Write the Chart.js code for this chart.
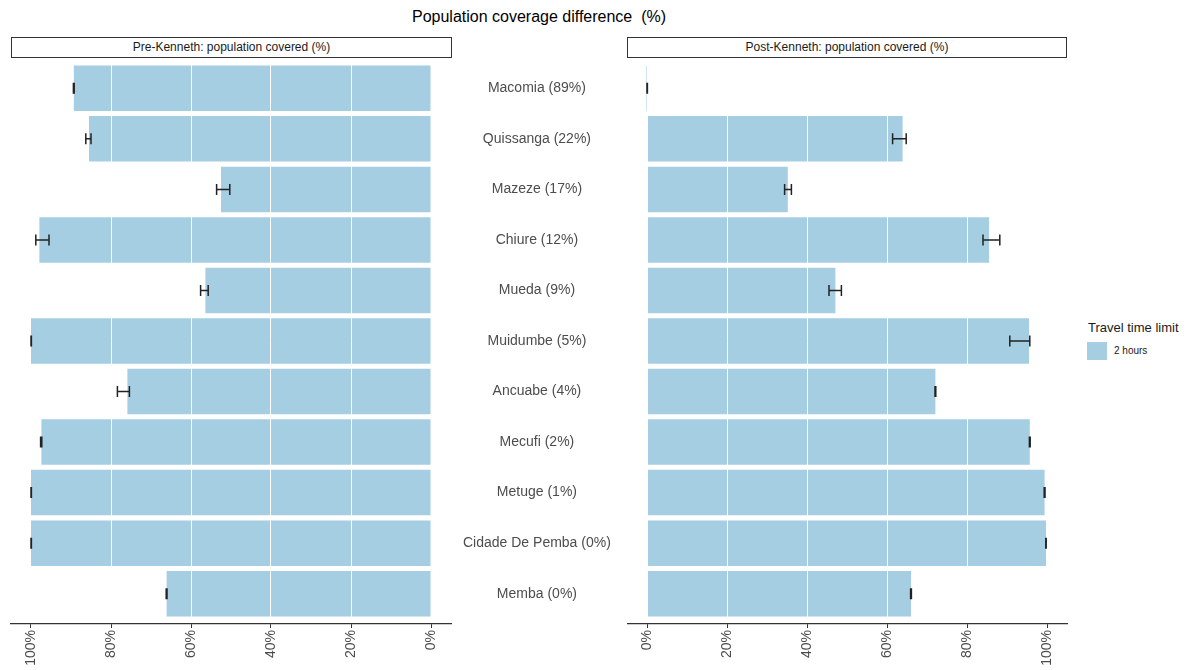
<!DOCTYPE html>
<html>
<head>
<meta charset="utf-8">
<script src="https://cdn.jsdelivr.net/npm/chart.js@4/dist/chart.umd.min.js"></script>
<style>
  body { margin: 0; background: #fff; font-family: 'Liberation Sans', Arial, sans-serif; }
  #wrap { position: relative; width: 1193px; height: 670px; overflow: hidden; }
  canvas { position: absolute; top: 0; }
  .title { position: absolute; top: 8px; left: 339px; width: 400px; text-align: center; font-size: 16px; color: #000; white-space: pre; }
  .strip { position: absolute; top: 37px; height: 21px; box-sizing: border-box; border: 1.5px solid #333; font-size: 12px; color: #1a1a1a; text-align: center; line-height: 18px; background: #fff; }
  .legend-title { position: absolute; left: 1088px; top: 320px; font-size: 13px; color: #1a1a1a; }
  .swatch { position: absolute; left: 1087px; top: 342px; width: 20px; height: 18px; background: #a6cee3; }
  .legend-lbl { position: absolute; left: 1114px; top: 345px; font-size: 10px; color: #1a1a1a; }
</style>
</head>
<body>
<div id="wrap">
  <div class="title">Population coverage difference  (%)</div>
  <div class="strip" style="left:11px;width:441px;">Pre-Kenneth: population covered (%)</div>
  <div class="strip" style="left:627px;width:440px;">Post-Kenneth: population covered (%)</div>
  <canvas id="pre" width="627" height="670" style="left:0"></canvas>
  <canvas id="post" width="460" height="670" style="left:627px"></canvas>
  <div class="legend-title">Travel time limit</div>
  <div class="swatch"></div>
  <div class="legend-lbl">2 hours</div>
</div>
<script>
// districts, top to bottom (difference in brackets)
const distritos = ['Macomia (89%)', 'Quissanga (22%)', 'Mazeze (17%)', 'Chiure (12%)', 'Mueda (9%)',
  'Muidumbe (5%)', 'Ancuabe (4%)', 'Mecufi (2%)', 'Metuge (1%)', 'Cidade De Pemba (0%)', 'Memba (0%)'];

// population covered within 2 hours (%)
const antes = [89.3, 85.5, 52.5, 97.9, 56.4, 100, 75.9, 97.4, 100, 100, 66.1];
const antesMin = [89.2, 85.0, 50.3, 95.5, 55.7, 99.9, 75.4, 97.3, 99.9, 99.9, 66.0];
const antesMax = [89.4, 86.3, 53.6, 98.8, 57.6, 100, 78.4, 97.6, 100, 100, 66.2];

const depois = [0, 63.9, 35.2, 85.5, 47.1, 95.5, 72.1, 95.7, 99.4, 99.75, 66.0];
const depoisMin = [0, 61.4, 34.4, 84.0, 45.5, 90.7, 72.0, 95.6, 99.3, 99.7, 65.9];
const depoisMax = [0.1, 64.8, 36.1, 88.2, 48.6, 95.7, 72.2, 95.8, 99.5, 99.8, 66.1];

const ticksX = [0, 20, 40, 60, 80, 100];

const corBarra = '#a6cee3';
const fonte = "'Liberation Sans', Arial, sans-serif";

// draws the error bars from the dataset's min / max arrays
const barrasErro = {
  id: 'barrasErro',
  afterDraw(chart) {
    const ds = chart.data.datasets[0];
    const xs = chart.scales.x, ys = chart.scales.y;
    const ctx = chart.ctx;
    ctx.save();
    ctx.strokeStyle = '#222';
    ctx.lineWidth = 1.5;
    ds.data.forEach((v, i) => {
      const y = ys.getPixelForValue(i);
      const x1 = xs.getPixelForValue(ds.errMin[i]);
      const x2 = xs.getPixelForValue(ds.errMax[i]);
      ctx.beginPath();
      ctx.moveTo(x1, y); ctx.lineTo(x2, y);
      ctx.moveTo(x1, y - 5.5); ctx.lineTo(x1, y + 5.5);
      ctx.moveTo(x2, y - 5.5); ctx.lineTo(x2, y + 5.5);
      ctx.stroke();
    });
    ctx.restore();
  }
};

function eixoX(reverso) {
  return {
    type: 'linear',
    position: 'bottom',
    reverse: reverso,
    min: -5,
    max: 105,
    afterBuildTicks: s => { s.ticks = ticksX.map(v => ({ value: v })); },
    afterFit: s => { s.height = 46; },
    grid: { color: '#fff', lineWidth: 1, z: 1, drawTicks: true, tickLength: 4, tickColor: '#333' },
    border: { display: true, color: '#333', width: 1.2, z: 1 },
    ticks: {
      minRotation: 90, maxRotation: 90, padding: 2,
      color: '#4d4d4d', font: { family: fonte, size: 14 },
      callback: v => v + '%'
    }
  };
}

function eixoY(mostrar) {
  return {
    type: 'linear',
    position: 'right',
    display: mostrar,
    reverse: true,
    offset: false,
    min: -0.6,
    max: 10.6,
    afterBuildTicks: s => { s.ticks = distritos.map((d, i) => ({ value: i })); },
    afterFit: s => { s.width = mostrar ? 176 : 0; },
    grid: { display: false, drawTicks: false },
    border: { display: false },
    ticks: {
      crossAlign: 'center', padding: 12,
      color: '#4d4d4d', font: { family: fonte, size: 14 },
      callback: v => distritos[v]
    }
  };
}

function grafico(id, valores, vMin, vMax, reverso, mostrarY, padding) {
  new Chart(document.getElementById(id), {
    type: 'bar',
    data: {
      datasets: [{
        label: '2 hours',
        data: valores.map((v, i) => ({ x: v, y: i })),
        errMin: vMin,
        errMax: vMax,
        backgroundColor: corBarra,
        borderWidth: 0,
        minBarLength: 1,
        categoryPercentage: 1,
        barPercentage: 0.9
      }]
    },
    options: {
      indexAxis: 'y',
      responsive: false,
      animation: false,
      devicePixelRatio: 1,
      layout: { padding: padding },
      scales: { x: eixoX(reverso), y: eixoY(mostrarY) },
      plugins: { legend: { display: false }, tooltip: { enabled: false } }
    },
    plugins: [barrasErro]
  });
}

grafico('pre', antes, antesMin, antesMax, true, true, { left: 11, top: 58, right: 0, bottom: 0 });
grafico('post', depois, depoisMin, depoisMax, false, false, { left: 0, top: 58, right: 20, bottom: 0 });
</script>
</body>
</html>
